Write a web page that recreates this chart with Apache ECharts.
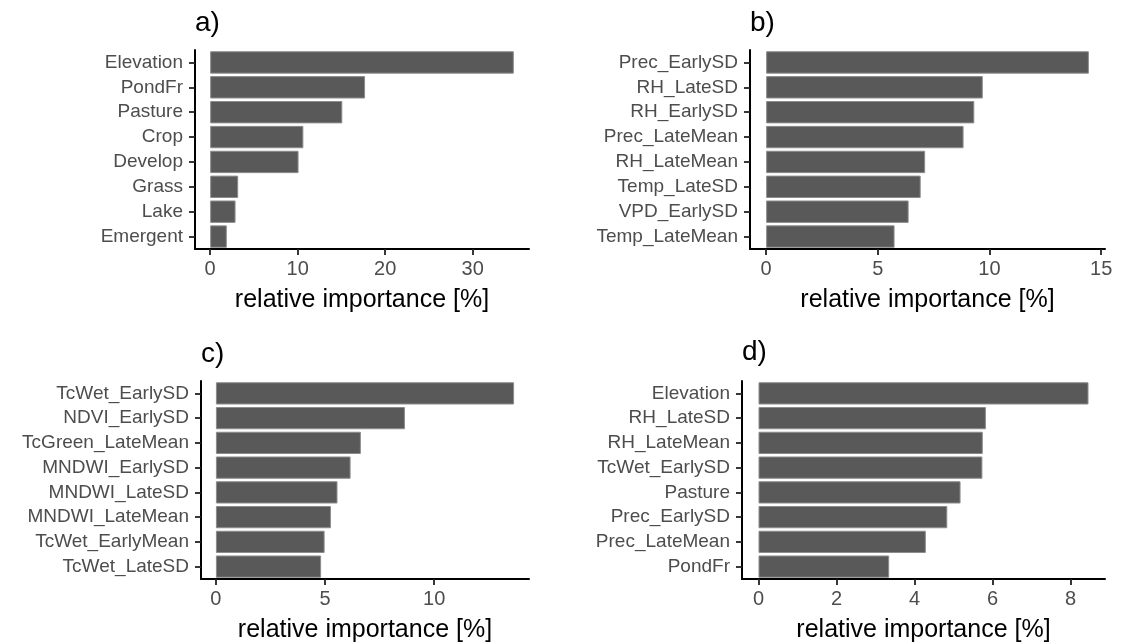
<!DOCTYPE html>
<html>
<head>
<meta charset="utf-8">
<script src="https://cdn.jsdelivr.net/npm/echarts@6/dist/echarts.min.js"></script>
<style>
html,body{margin:0;padding:0;background:#fff;}
#chart{width:1124px;height:644px;}
</style>
</head>
<body>
<div id="chart"></div>
<script>
// ---- Data (top to bottom order) ----
const catsA = ['Elevation','PondFr','Pasture','Crop','Develop','Grass','Lake','Emergent'];
const valsA = [34.7,17.7,15.1,10.65,10.1,3.2,2.9,1.9];
const ticksA = [0,10,20,30];

const catsB = ['Prec_EarlySD','RH_LateSD','RH_EarlySD','Prec_LateMean','RH_LateMean','Temp_LateSD','VPD_EarlySD','Temp_LateMean'];
const valsB = [14.45,9.7,9.32,8.84,7.12,6.92,6.38,5.75];
const ticksB = [0,5,10,15];

const catsC = ['TcWet_EarlySD','NDVI_EarlySD','TcGreen_LateMean','MNDWI_EarlySD','MNDWI_LateSD','MNDWI_LateMean','TcWet_EarlyMean','TcWet_LateSD'];
const valsC = [13.66,8.66,6.64,6.17,5.57,5.27,4.98,4.82];
const ticksC = [0,5,10];

const catsD = ['Elevation','RH_LateSD','RH_LateMean','TcWet_EarlySD','Pasture','Prec_EarlySD','Prec_LateMean','PondFr'];
const valsD = [8.46,5.83,5.75,5.74,5.18,4.84,4.29,3.35];
const ticksD = [0,2,4,6,8];

const panelTags = ['a)','b)','c)','d)'];
const axisTitle = 'relative importance [%]';

// ---- Layout ----
const FONT = "'Liberation Sans', Arial, sans-serif";
const panels = [
  {cats: catsA, vals: valsA, ticks: ticksA, grid: {left:195, top:50, width:334, height:199}, titleTop: 9},
  {cats: catsB, vals: valsB, ticks: ticksB, grid: {left:750, top:50, width:355, height:199}, titleTop: 9},
  {cats: catsC, vals: valsC, ticks: ticksC, grid: {left:201, top:381, width:328, height:199}, titleTop: 340},
  {cats: catsD, vals: valsD, ticks: ticksD, grid: {left:742, top:381, width:363, height:199}, titleTop: 338}
];

const option = {
  backgroundColor: '#ffffff',
  animation: false,
  title: [], grid: [], xAxis: [], yAxis: [], series: []
};

panels.forEach((p, i) => {
  const vmax = Math.max(...p.vals);
  option.title.push({
    text: panelTags[i], left: p.grid.left, top: p.titleTop, padding: 0,
    textStyle: {fontFamily: FONT, fontSize: 28, fontWeight: 'normal', color: '#000'}
  });
  option.grid.push(Object.assign({containLabel: false}, p.grid));
  option.xAxis.push({
    type: 'value', gridIndex: i,
    min: -0.05 * vmax, max: 1.05 * vmax,
    splitLine: {show: false},
    axisLine: {show: true, onZero: false, lineStyle: {color: '#000', width: 2}},
    axisTick: {show: true, length: 6, customValues: p.ticks, lineStyle: {color: '#222', width: 1.8}},
    axisLabel: {customValues: p.ticks, margin: 10, fontFamily: FONT, fontSize: 20, color: '#4d4d4d'},
    name: axisTitle, nameLocation: 'middle', nameGap: 39,
    nameTextStyle: {fontFamily: FONT, fontSize: 25, color: '#000'}
  });
  option.yAxis.push({
    type: 'category', gridIndex: i, inverse: true, data: p.cats,
    axisLine: {show: true, onZero: false, lineStyle: {color: '#000', width: 2}},
    axisTick: {show: true, alignWithLabel: true, length: 6, lineStyle: {color: '#222', width: 1.8}},
    axisLabel: {interval: 0, margin: 12, fontFamily: FONT, fontSize: 19, color: '#4d4d4d'},
    splitLine: {show: false}
  });
  option.series.push({
    type: 'bar', xAxisIndex: i, yAxisIndex: i, data: p.vals,
    barWidth: '90%',
    itemStyle: {color: '#595959', borderColor: '#8c8c8c', borderWidth: 1}
  });
});

const chart = echarts.init(document.getElementById('chart'), null, {renderer: 'canvas'});
chart.setOption(option);
</script>
</body>
</html>
